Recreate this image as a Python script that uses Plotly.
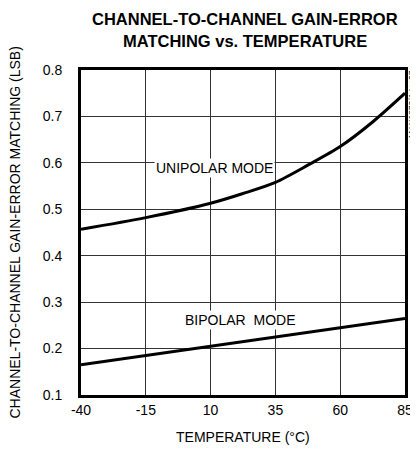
import plotly.graph_objects as go

temps_uni = [-40, -15, 10, 22.5, 35, 47.5, 60, 72.5, 85]
unipolar = [0.457, 0.482, 0.513, 0.534, 0.558, 0.595, 0.635, 0.688, 0.750]
temps_bi = [-40, -15, 10, 35, 60, 85]
bipolar = [0.165, 0.185, 0.205, 0.225, 0.245, 0.265]
xticks = [-40, -15, 10, 35, 60, 85]
yticks = [0.1, 0.2, 0.3, 0.4, 0.5, 0.6, 0.7, 0.8]

FONT = "Liberation Sans, Arial, sans-serif"

fig = go.Figure()
fig.add_trace(go.Scatter(x=temps_uni, y=unipolar, mode="lines",
                         line=dict(color="black", width=3, shape="spline", smoothing=0.8), showlegend=False))
fig.add_trace(go.Scatter(x=temps_bi, y=bipolar, mode="lines",
                         line=dict(color="black", width=3), showlegend=False))

# the page body has an 8px margin, so the figure is drawn 8px smaller
fig.update_layout(
    width=410, height=445,
    margin=dict(l=73, r=13, t=62, b=58, autoexpand=False),
    paper_bgcolor="white", plot_bgcolor="white",
    font=dict(family=FONT, color="black", size=14),
    xaxis=dict(range=[-40, 85], tickvals=xticks, ticktext=[str(v) for v in xticks],
               showgrid=True, gridcolor="#333333", gridwidth=1,
               showline=True, mirror=True, linecolor="black", linewidth=3,
               zeroline=False, ticks="", automargin=False, ticklabelstandoff=0,
               tickfont=dict(size=14)),
    yaxis=dict(range=[0.1, 0.8], tickvals=yticks, ticktext=[f"{v:.1f}" for v in yticks],
               showgrid=True, gridcolor="#333333", gridwidth=1,
               showline=True, mirror=True, linecolor="black", linewidth=3,
               zeroline=False, ticks="", automargin=False, ticklabelstandoff=13,
               tickfont=dict(size=14)),
)

# title
fig.add_annotation(xref="paper", yref="paper", x=0.505, y=1.0, yshift=51, yanchor="middle",
                   text="<b>CHANNEL-TO-CHANNEL GAIN-ERROR</b>", showarrow=False,
                   font=dict(size=16.5, family=FONT))
fig.add_annotation(xref="paper", yref="paper", x=0.505, y=1.0, yshift=29, yanchor="middle",
                   text="<b>MATCHING vs. TEMPERATURE</b>", showarrow=False,
                   font=dict(size=16.5, family=FONT))
# axis titles
fig.add_annotation(xref="paper", yref="paper", x=0.5, y=0, yshift=-42, yanchor="middle",
                   text="TEMPERATURE (°C)", showarrow=False, font=dict(size=14, family=FONT))
fig.add_annotation(xref="paper", yref="paper", x=0, xshift=-67, y=0.5, xanchor="center",
                   text="CHANNEL-TO-CHANNEL GAIN-ERROR MATCHING (LSB)", textangle=-90,
                   showarrow=False, font=dict(size=14, family=FONT))

fig.add_annotation(x=11.5, y=0.59, text="UNIPOLAR MODE", showarrow=False,
                   font=dict(size=14, family=FONT), bgcolor="white", borderpad=1)
fig.add_annotation(x=21.2, y=0.262, text="BIPOLAR  MODE", showarrow=False,
                   font=dict(size=14, family=FONT), bgcolor="white", borderpad=1)
fig.add_annotation(xref="paper", yref="paper", x=1.0, xshift=7, y=1.0, yshift=2,
                   yanchor="top", xanchor="center",
                   text="MAX1270/1 toc07", textangle=-90, showarrow=False,
                   font=dict(size=8.5, family=FONT, color="#222222"))

fig.write_html("out.html")
